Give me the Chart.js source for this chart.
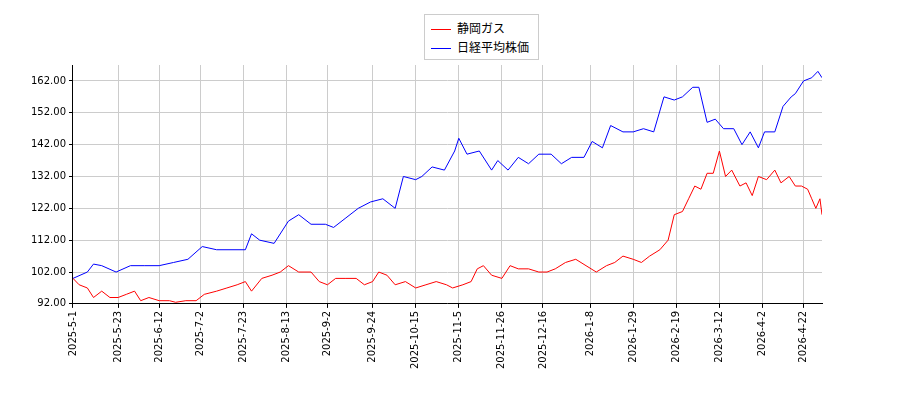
<!DOCTYPE html>
<html><head><meta charset="utf-8">
<script src="https://cdn.jsdelivr.net/npm/chart.js@4"></script>
<style>body{margin:0;background:#fff}#w{position:relative;width:900px;height:400px}
#lg{position:absolute;left:424px;top:14px;width:115px;border:1px solid #ccc;background:#fff;font:12px 'Noto Sans CJK JP';padding:3px 6px;box-sizing:border-box;line-height:19px}
#lg span{display:inline-block;width:20px;height:0;border-top:1.5px solid;vertical-align:middle;margin-right:6px}</style>
</head><body><div id="w"><canvas id="c" width="900" height="400"></canvas>
<div id="lg"><div><span style="border-color:#f00"></span>静岡ガス</div><div><span style="border-color:#00f"></span>日経平均株価</div></div></div>
<script>
const tickDays=[0,22,42,62,83,104,124,146,167,188,209,229,252,273,294,315,336,356];
const tickLabels=["2025-5-1","2025-5-23","2025-6-12","2025-7-2","2025-7-23","2025-8-13","2025-9-2","2025-9-24","2025-10-15","2025-11-5","2025-11-26","2025-12-16","2026-1-8","2026-1-29","2026-2-19","2026-3-12","2026-4-2","2026-4-22"];
const yTicks=[92,102,112,122,132,142,152,162];
const nikkeiDays=[0,7,10,14,21,28,35,42,49,56,63,70,77,84,87,91,98,105,110,116,123,127,133,139,145,151,157,161,167,170,175,181,186,188,192,198,204,207,212,217,222,227,233,238,243,249,253,258,262,268,273,278,283,288,293,297,302,305,309,313,317,322,326,330,334,337,342,346,350,352,356,360,363,365];
const nikkeiVals=[100,102,104.5,104,102,104,104,104,105,106,110,109,109,109,114,112,111,118,120,117,117,116,119,122,124,125,122,132,131,132,135,134,140,144,139,140,134,137,134,138,136,139,139,136,138,138,143,141,148,146,146,147,146,157,156,157,160,160,149,150,147,147,142,146,141,146,146,154,157,158,162,163,165,163];
const gasDays=[0,3,7,10,14,18,22,26,30,33,37,42,47,50,55,60,64,70,75,80,84,87,92,97,101,105,110,116,120,124,128,133,138,142,146,149,153,157,162,167,172,177,182,185,190,194,197,200,204,209,213,217,222,227,231,235,240,245,250,255,260,264,268,273,277,281,286,290,293,297,300,303,306,309,312,315,318,321,325,328,331,334,338,342,345,349,352,355,358,360,362,364,365];
const gasVals=[100,98,97,94,96,94,94,95,96,93,94,93,93,92.5,93,93,95,96,97,98,99,96,100,101,102,104,102,102,99,98,100,100,100,98,99,102,101,98,99,97,98,99,98,97,98,99,103,104,101,100,104,103,103,102,102,103,105,106,104,102,104,105,107,106,105,107,109,112,120,121,125,129,128,133,133,140,132,134,129,130,126,132,131,134,130,132,129,129,128,125,122,125,120];
const pts=(d,v)=>d.map((x,i)=>({x,y:v[i]}));
new Chart(document.getElementById('c'),{type:'line',
data:{datasets:[
{label:'静岡ガス',data:pts(gasDays,gasVals),borderColor:'#ff0000',borderWidth:1,pointRadius:0,tension:0},
{label:'日経平均株価',data:pts(nikkeiDays,nikkeiVals),borderColor:'#0000ff',borderWidth:1,pointRadius:0,tension:0}]},
options:{responsive:false,animation:false,devicePixelRatio:1,
layout:{padding:{left:28,right:78,top:65,bottom:28}},
plugins:{legend:{display:false},tooltip:{enabled:false}},
scales:{
x:{type:'linear',min:0,max:365,afterBuildTicks:a=>{a.ticks=tickDays.map(v=>({value:v}));},
ticks:{callback:(v)=>tickLabels[tickDays.indexOf(v)],maxRotation:90,minRotation:90,autoSkip:false,font:{family:'DejaVu Sans',size:10},color:'#000'},
grid:{color:'#cccccc',tickColor:'#000',tickLength:4},border:{color:'#000'}},
y:{min:92,max:167,afterBuildTicks:a=>{a.ticks=yTicks.map(v=>({value:v}));},
ticks:{callback:v=>v.toFixed(2),font:{family:'DejaVu Sans',size:10},color:'#000'},
grid:{color:'#cccccc',tickColor:'#000',tickLength:4},border:{color:'#000'}}}}
});
</script></body></html>
